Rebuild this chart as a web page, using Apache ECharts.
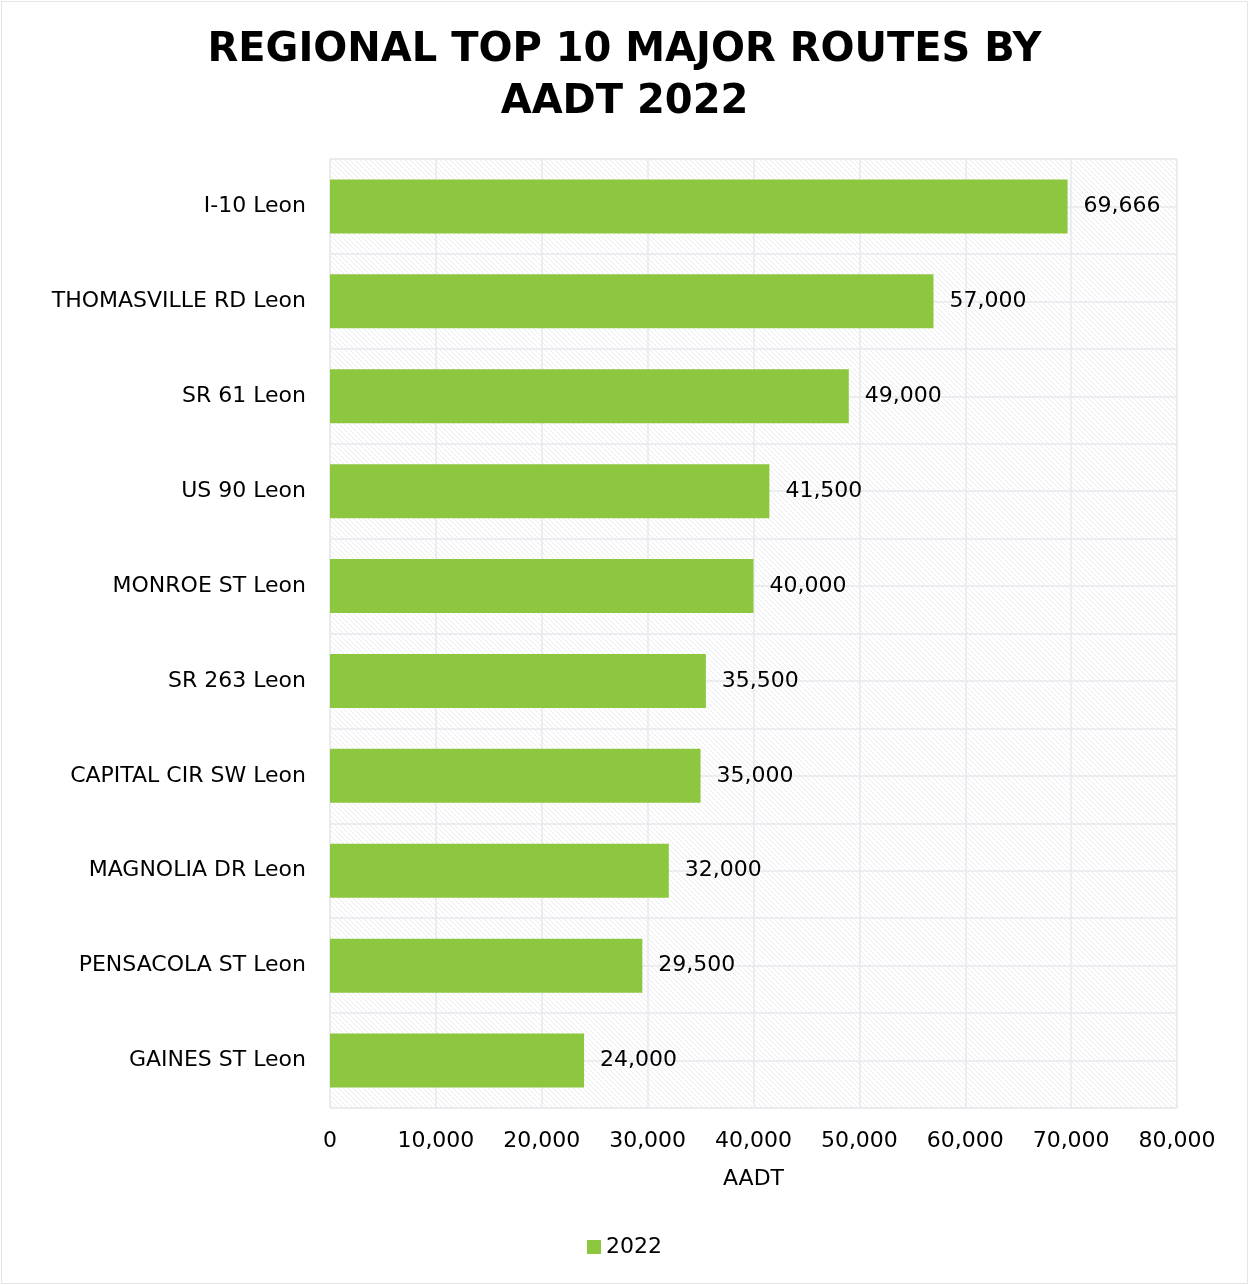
<!DOCTYPE html>
<html><head><meta charset="utf-8">
<script src="https://cdn.jsdelivr.net/npm/echarts@6/dist/echarts.min.js"></script>
<style>
html,body{margin:0;padding:0;background:#fff;}
#frame{position:absolute;left:1px;top:1px;width:1245px;height:1281px;border:1px solid #e3e6e8;}
#c{position:absolute;left:0;top:0;width:1249px;height:1285px;}
</style></head><body>
<div id="frame"></div>
<div id="c"></div>
<script>
const categories = ["I-10 Leon","THOMASVILLE RD Leon","SR 61 Leon","US 90 Leon","MONROE ST Leon","SR 263 Leon","CAPITAL CIR SW Leon","MAGNOLIA DR Leon","PENSACOLA ST Leon","GAINES ST Leon"];
const values2022 = [69666,57000,49000,41500,40000,35500,35000,32000,29500,24000];
const seriesName = "2022";
const xTicks = [0,10000,20000,30000,40000,50000,60000,70000,80000];

const FONT = 'DejaVu Sans';
const pc = document.createElement('canvas');
pc.width = 5; pc.height = 5;
const g = pc.getContext('2d');
g.fillStyle = '#ffffff'; g.fillRect(0,0,5,5);
g.fillStyle = '#e9ebed';
for (let i = 0; i < 5; i++) { g.fillRect(i, i, 1, 1); }

const fmt = v => v.toLocaleString('en-US');
const chart = echarts.init(document.getElementById('c'), null, {renderer:'canvas'});
chart.setOption({
  animation:false,
  title:{text:'REGIONAL TOP 10 MAJOR ROUTES BY\nAADT 2022', left:'center', top:20,
    textStyle:{fontFamily:FONT, fontWeight:'bold', fontSize:40, lineHeight:52, color:'#000'}},
  grid:{left:330, right:72, top:159, bottom:177, show:true, borderColor:'#e6e9ec', borderWidth:1,
    backgroundColor:{image:pc, repeat:'repeat'}},
  legend:{bottom:22, left:'center', itemWidth:14, itemHeight:14, itemGap:4, icon:'rect',
    textStyle:{fontFamily:FONT, fontSize:22, color:'#000'}},
  xAxis:{type:'value', min:xTicks[0], max:xTicks[xTicks.length-1], interval:10000, name:'AADT', nameLocation:'middle', nameGap:60,
    nameTextStyle:{fontFamily:FONT, fontSize:22, color:'#000'},
    axisLine:{show:false}, axisTick:{show:false},
    axisLabel:{fontFamily:FONT, fontSize:22, color:'#000', margin:22, formatter:v=>fmt(v)},
    splitLine:{show:true, lineStyle:{color:'#e6e9ec', width:1.5}}},
  yAxis:[{type:'category', data:categories, inverse:true,
    axisLine:{show:false}, axisTick:{show:false},
    axisLabel:{fontFamily:FONT, fontSize:22, color:'#000', margin:24},
    splitLine:{show:false}},
    {type:'value', min:0, max:20, interval:1, show:true, position:'right',
    axisLine:{show:false}, axisTick:{show:false}, axisLabel:{show:false},
    splitLine:{show:true, lineStyle:{color:'#e6e9ec', width:1.5}}}],
  series:[{name:seriesName, type:'bar', data:values2022, yAxisIndex:0, barWidth:54,
    itemStyle:{color:'#8DC63F'},
    label:{show:true, position:'right', distance:16, fontFamily:FONT, fontSize:22, color:'#000', formatter:p=>fmt(p.value)}}]
});
</script></body></html>
